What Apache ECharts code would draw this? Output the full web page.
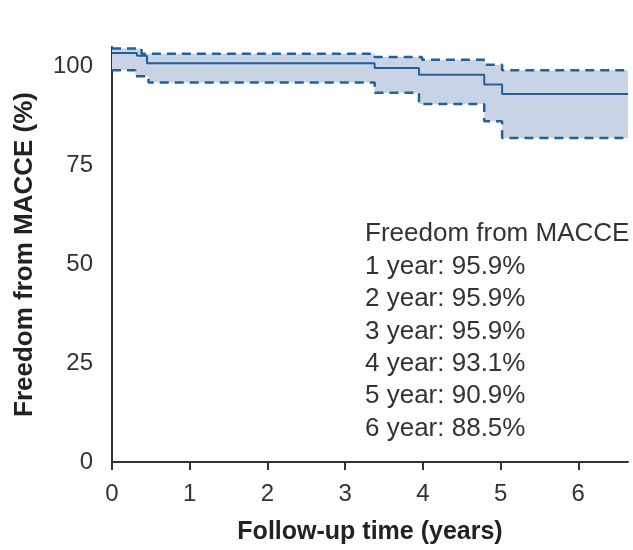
<!DOCTYPE html>
<html>
<head>
<meta charset="utf-8">
<script src="https://cdn.jsdelivr.net/npm/echarts@6/dist/echarts.min.js"></script>
<style>
  html, body { margin: 0; padding: 0; background: #fff; }
  #km { width: 633px; height: 550px; }
</style>
</head>
<body>
<div id="km"></div>
<script>
// Kaplan-Meier step curve (time in years, % as plotted)
const kmTimes = [0, 0.32, 0.45, 3.38, 3.95, 4.79, 5.02];
const kmValues = [103.5, 102.8, 100.9, 99.7, 98.0, 95.5, 93.1];
// 95% CI bounds
const upperTimes = [0, 0.38, 3.38, 3.99, 4.80, 5.02];
const upperValues = [104.6, 103.3, 102.5, 101.8, 100.5, 99.1];
const lowerTimes = [0, 0.30, 0.47, 3.38, 3.95, 4.79, 5.02];
const lowerValues = [99.1, 97.6, 96.0, 93.4, 90.6, 86.2, 82.0];
const followUpEnd = 6.64;

const xTicks = [0, 1, 2, 3, 4, 5, 6];
const yTicks = [0, 25, 50, 75, 100];
const noteLines = [
  "Freedom from MACCE",
  "1 year: 95.9%",
  "2 year: 95.9%",
  "3 year: 95.9%",
  "4 year: 93.1%",
  "5 year: 90.9%",
  "6 year: 88.5%"
];

const lineColor = "#24609a";
const bandColor = "#c9d3e6";

function stepData(times, vals) {
  const d = times.map((t, i) => [t, vals[i]]);
  d.push([followUpEnd, vals[vals.length - 1]]);
  return d;
}

// corner points of a step function (horizontal then vertical)
function stepCorners(times, vals) {
  const pts = [];
  for (let i = 0; i < times.length; i++) {
    const tNext = i + 1 < times.length ? times[i + 1] : followUpEnd;
    pts.push([times[i], vals[i]]);
    pts.push([tNext, vals[i]]);
  }
  return pts;
}

const chart = echarts.init(document.getElementById("km"));

const dashed = { color: lineColor, width: 2.5, type: [9, 6] };

const option = {
  animation: false,
  grid: { left: 112, right: 5, top: 47, bottom: 87 },
  xAxis: {
    type: "value",
    min: 0,
    max: followUpEnd,
    name: "Follow-up time (years)",
    nameLocation: "middle",
    nameGap: 58,
    nameTextStyle: { fontFamily: "Liberation Sans", fontSize: 25, fontWeight: "bold", color: "#222" },
    splitLine: { show: false },
    axisLine: { lineStyle: { color: "#333", width: 2 } },
    axisTick: { customValues: xTicks, length: 8, lineStyle: { color: "#333", width: 2 } },
    axisLabel: {
      customValues: xTicks,
      margin: 20,
      fontFamily: "Liberation Sans",
      fontSize: 24,
      color: "#333"
    }
  },
  yAxis: {
    type: "value",
    min: 0,
    max: 105,
    name: "Freedom from MACCE (%)",
    nameLocation: "middle",
    nameGap: 74,
    nameTextStyle: { fontFamily: "Liberation Sans", fontSize: 26, fontWeight: "bold", color: "#222" },
    splitLine: { show: false },
    axisLine: { show: true, lineStyle: { color: "#333", width: 2 } },
    axisTick: { show: false },
    axisLabel: {
      customValues: yTicks,
      margin: 19,
      fontFamily: "Liberation Sans",
      fontSize: 24,
      color: "#333"
    }
  },
  graphic: [{
    type: "text",
    left: 365,
    top: 218,
    z: 10,
    style: {
      text: noteLines.join("\n"),
      font: "26px 'Liberation Sans'",
      lineHeight: 32.4,
      fill: "#333"
    }
  }],
  series: [
    {
      name: "ci band",
      type: "custom",
      data: [[0, 0]],
      z: 1,
      renderItem: function (params, api) {
        const up = stepCorners(upperTimes, upperValues);
        const low = stepCorners(lowerTimes, lowerValues).reverse();
        const pts = up.concat(low).map(p => api.coord(p));
        return {
          type: "polygon",
          shape: { points: pts },
          style: { fill: bandColor }
        };
      }
    },
    {
      name: "upper",
      type: "line",
      step: "end",
      data: stepData(upperTimes, upperValues),
      symbol: "none",
      lineStyle: dashed
    },
    {
      name: "lower",
      type: "line",
      step: "end",
      data: stepData(lowerTimes, lowerValues),
      symbol: "none",
      lineStyle: dashed
    },
    {
      name: "km",
      type: "line",
      step: "end",
      data: stepData(kmTimes, kmValues),
      symbol: "none",
      lineStyle: { color: lineColor, width: 2 },
      z: 3
    }
  ]
};

chart.setOption(option);
</script>
</body>
</html>
